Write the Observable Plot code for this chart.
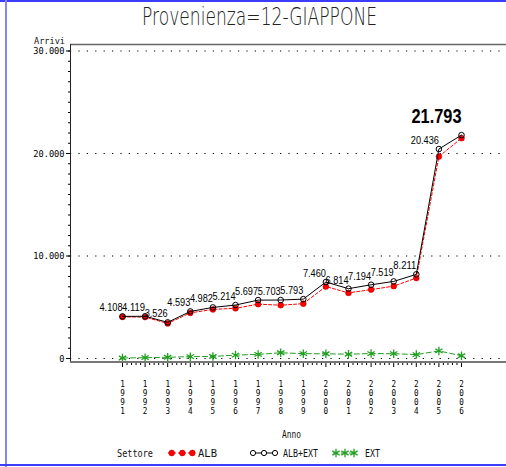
<!DOCTYPE html>
<html>
<head>
<meta charset="utf-8">
<script src="https://cdn.jsdelivr.net/npm/d3@7"></script>
<script src="https://cdn.jsdelivr.net/npm/@observablehq/plot@0.6"></script>
<style>
  html, body { margin: 0; padding: 0; background: #fff; }
  #chart { width: 506px; height: 467px; position: relative; overflow: hidden; }
</style>
</head>
<body>
<div id="chart"></div>
<script>
// ---- data ----
const years = [1991, 1992, 1993, 1994, 1995, 1996, 1997, 1998, 1999, 2000, 2001, 2002, 2003, 2004, 2005, 2006];
const albExtValues = [4108, 4119, 3526, 4593, 4982, 5214, 5697, 5703, 5793, 7460, 6814, 7194, 7519, 8211, 20436, 21793];
const albValues = [4060, 4040, 3420, 4450, 4790, 4900, 5300, 5200, 5350, 7020, 6400, 6720, 7060, 7850, 19700, 21500];
const extValues = [50, 80, 120, 180, 200, 330, 400, 560, 470, 460, 420, 480, 470, 380, 740, 270];
const yTicks = [0, 10000, 20000, 30000];
const titleText = "Provenienza=12-GIAPPONE";
const yLabel = "Arrivi";
const xLabel = "Anno";
const legendTitle = "Settore";
const seriesNames = ["ALB", "ALB+EXT", "EXT"];

const fmt = d => d3.format(",")(d).replace(/,/g, ".");
const albData = years.map((a, i) => ({anno: a, v: albValues[i]}));
const totData = years.map((a, i) => ({anno: a, v: albExtValues[i]}));
const extData = years.map((a, i) => ({anno: a, v: extValues[i]}));
const lastYear = years[years.length - 1];
const minorX = d3.range(years[0], lastYear + 0.001, 0.2).filter(t => Math.abs(t - Math.round(t)) > 0.01);
const minorY = d3.range(0, 30001, 1000);

const RED = "#ff0000", GREEN = "#1f9e1f", MONO = "DejaVu Sans Mono";

const plot = Plot.plot({
  width: 506, height: 467,
  marginLeft: 70, marginRight: 0, marginTop: 44, marginBottom: 105,
  x: {type: "linear", domain: [years[0], lastYear], range: [122, 461], label: null},
  y: {domain: [0, 30000], range: [358, 50.5], label: null},
  style: {fontFamily: MONO, fontSize: "10px", background: "transparent", overflow: "visible", color: "#000"},
  marks: [
    Plot.gridY(yTicks, {stroke: "#000", strokeOpacity: 1, strokeWidth: 1.1, strokeDasharray: "1.2,7.2"}),
    Plot.axisY(minorY, {tickSize: 2, text: null, label: null, stroke: "#000"}),
    Plot.axisY(yTicks, {tickSize: 4, tickPadding: 2, tickFormat: fmt, label: null, fontFamily: MONO, fontSize: 9.5, stroke: "#000"}),
    Plot.axisX(minorX, {tickSize: 3, text: null, label: null, stroke: "#000"}),
    Plot.axisX(years, {tickSize: 5, tickPadding: 13, label: null, stroke: "#000",
      tickFormat: d => String(d).split("").join("\n"), fontFamily: MONO, fontSize: 9, lineHeight: 1}),
    Plot.line(extData, {x: "anno", y: "v", stroke: GREEN, strokeWidth: 1, strokeDasharray: "5,3"}),
    Plot.dot(extData, {x: "anno", y: "v", symbol: "asterisk", r: 4, stroke: GREEN, strokeWidth: 1.3}),
    Plot.line(albData, {x: "anno", y: "v", stroke: RED, strokeWidth: 1, strokeDasharray: "3,2"}),
    Plot.dot(albData, {x: "anno", y: "v", r: 2.9, fill: RED, stroke: "#c00000", strokeWidth: 0.6}),
    Plot.line(totData, {x: "anno", y: "v", stroke: "#000", strokeWidth: 1}),
    Plot.dot(totData, {x: "anno", y: "v", r: 2.8, fill: "none", stroke: "#000", strokeWidth: 1}),
    Plot.text(totData, {filter: d => d.anno !== lastYear, x: "anno", y: "v", text: d => fmt(d.v),
      textAnchor: "end", lineAnchor: "bottom", dy: -5, fontFamily: "Liberation Sans", fontSize: 10, fill: "#000"}),
    Plot.text(totData, {filter: d => d.anno === lastYear, x: "anno", y: "v", text: d => fmt(d.v),
      textAnchor: "end", lineAnchor: "bottom", dy: -12, fontFamily: "Liberation Sans",
      fontWeight: "bold", fontSize: 21, fill: "#000"})
  ]
});
document.getElementById("chart").appendChild(plot);

const svg = d3.select(plot);
// condense texts like the original narrow fonts
svg.selectAll("g[aria-label='y-axis tick label'] text").each(function() {
  const t = this.textContent;
  d3.select(this).attr("textLength", t.length * 5.2).attr("lengthAdjust", "spacingAndGlyphs");
});
svg.selectAll("g[aria-label='x-axis tick label'] tspan").attr("textLength", 4.6).attr("lengthAdjust", "spacingAndGlyphs");
svg.selectAll("g[aria-label='text'] text").each(function() {
  const t = this.textContent;
  const big = +this.getAttribute("font-size") > 15 || (this.parentNode.getAttribute("font-size") || "") === "21";
  const digits = t.replace(/\D/g, "").length, dots = t.length - digits;
  const w = big ? digits * 9 + dots * 5 : digits * 5.1 + dots * 2.6;
  d3.select(this).attr("textLength", w).attr("lengthAdjust", "spacingAndGlyphs");
});

// frame lines
svg.append("line").attr("x1", 70).attr("x2", 506).attr("y1", 44.5).attr("y2", 44.5).attr("stroke", "#666").attr("stroke-width", 1.5);
svg.append("line").attr("x1", 70.5).attr("x2", 70.5).attr("y1", 44).attr("y2", 362).attr("stroke", "#222").attr("stroke-width", 1);
svg.append("line").attr("x1", 70).attr("x2", 506).attr("y1", 362).attr("y2", 362).attr("stroke", "#777").attr("stroke-width", 2);

// outer blue border
svg.append("line").attr("x1", 0).attr("x2", 506).attr("y1", 1).attr("y2", 1).attr("stroke", "#3c3cff").attr("stroke-width", 2);
svg.append("line").attr("x1", 6).attr("x2", 6).attr("y1", 0).attr("y2", 467).attr("stroke", "#8484ff").attr("stroke-width", 2);
svg.append("line").attr("x1", 0).attr("x2", 506).attr("y1", 465).attr("y2", 465).attr("stroke", "#3c3cff").attr("stroke-width", 2);

function txt(x, y, s, size, len, anchor, family, weight) {
  return svg.append("text").attr("x", x).attr("y", y).attr("font-family", family || MONO).attr("font-size", size)
    .attr("font-weight", weight || "normal")
    .attr("text-anchor", anchor || "start").attr("fill", "#111")
    .attr("textLength", len).attr("lengthAdjust", "spacingAndGlyphs").text(s);
}
txt(259.5, 25, titleText, 24, 235, "middle", "DejaVu Sans", 200).attr("fill", "#222");
txt(34, 44, yLabel, 9, 31);
txt(282, 438, xLabel, 10, 19);
txt(117, 457, legendTitle, 10, 36);
txt(198, 457, seriesNames[0], 10, 19);
txt(283, 457, seriesNames[1], 10, 35);
txt(365, 457, seriesNames[2], 10, 15);

// legend symbols
const ly = 453;
svg.append("line").attr("x1", 168).attr("x2", 195).attr("y1", ly).attr("y2", ly).attr("stroke", RED).attr("stroke-dasharray", "3,2");
[171.7, 182.3, 192.3].forEach(x => svg.append("circle").attr("cx", x).attr("cy", ly).attr("r", 2.9).attr("fill", RED).attr("stroke", "#c00000").attr("stroke-width", 0.6));
svg.append("line").attr("x1", 251).attr("x2", 277).attr("y1", ly).attr("y2", ly).attr("stroke", "#000");
[253, 264, 275].forEach(x => svg.append("circle").attr("cx", x).attr("cy", ly).attr("r", 2.6).attr("fill", "#fff").attr("stroke", "#000"));
svg.append("line").attr("x1", 333).attr("x2", 356).attr("y1", ly).attr("y2", ly).attr("stroke", GREEN).attr("stroke-dasharray", "5,3");
const star = d3.symbol(d3.symbolAsterisk, 50)();
[336, 345, 354].forEach(x => svg.append("path").attr("d", star).attr("transform", `translate(${x},${ly})`).attr("fill", "none").attr("stroke", GREEN).attr("stroke-width", 1.3));
</script>
</body>
</html>
